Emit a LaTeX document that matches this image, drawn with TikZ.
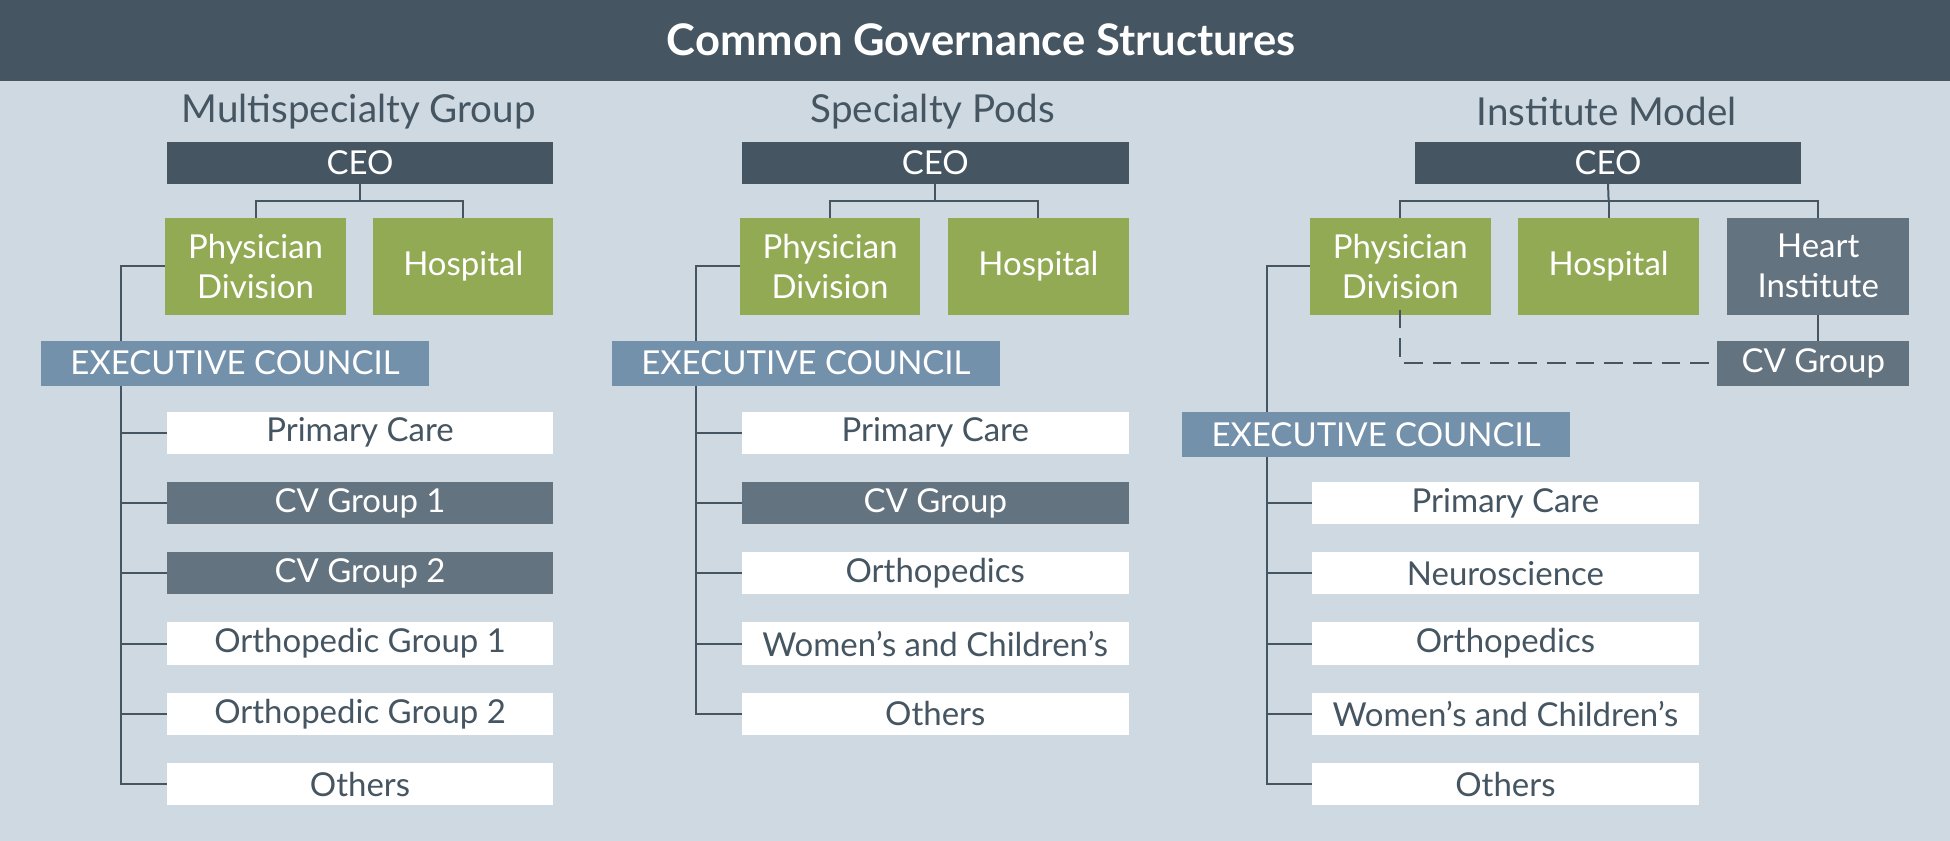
\documentclass[tikz,border=0pt]{standalone}
\usepackage{fontspec}
\setmainfont{Lato}
\usetikzlibrary{calc}
\definecolor{slate}{HTML}{455561}
\definecolor{bgc}{HTML}{CED9E2}
\definecolor{greenb}{HTML}{93AA54}
\definecolor{ecb}{HTML}{7491AB}
\definecolor{cvb}{HTML}{63737F}
\tikzset{
  box/.style={rectangle, inner sep=0pt, outer sep=0pt, minimum width=311pt, minimum height=34pt, font=\fontsize{26.5}{30}\selectfont, align=center},
  whitebox/.style={box, fill=white, text=slate},
  cvbox/.style={box, fill=cvb, text=white},
  ceobox/.style={box, fill=slate, text=white},
  greenbox/.style={box, fill=greenb, text=white, minimum width=145pt, minimum height=78pt, font=\fontsize{26.5}{32}\selectfont},
  ecbox/.style={box, fill=ecb, text=white, minimum width=312pt, minimum height=36pt},
  heading/.style={text=slate, font=\fontsize{31}{34}\selectfont, inner sep=0pt},
  conn/.style={draw=slate, line width=1.6pt},
  dconn/.style={conn, dash pattern=on 15pt off 8pt}
}
\begin{document}
\begin{tikzpicture}[x=1pt,y=-1pt]
\fill[bgc] (0,0) rectangle (1568,676);
\useasboundingbox (0,0) rectangle (1568,676);
\fill[slate] (0,0) rectangle (1568,65);
\node[text=white, font=\bfseries\fontsize{35}{40}\selectfont] (title) at (789,32) {Common Governance Structures};

% ---------- Column 1 ----------
\node[heading] (h1) at (288.5,90) {Multispecialty Group};
\node[ceobox] (ceo1) at (289.5,131) {CEO};
\node[greenbox] (pd1) at (205.5,214) {Physician\\Division};
\node[greenbox] (hs1) at (372.5,214) {Hospital};
\node[ecbox] (ec1) at (189,292) {EXECUTIVE COUNCIL};
\node[whitebox] (a1) at (289.5,348) {Primary Care};
\node[cvbox] (a2) at (289.5,404.5) {CV Group 1};
\node[cvbox] (a3) at (289.5,461) {CV Group 2};
\node[whitebox] (a4) at (289.5,517.5) {Orthopedic Group 1};
\node[whitebox] (a5) at (289.5,574) {Orthopedic Group 2};
\node[whitebox] (a6) at (289.5,630.5) {Others};
\coordinate (t1) at (97,0);
\coordinate (j1) at (289.5,162);
\draw[conn] (ceo1.south) -- (j1);
\draw[conn] (j1) -| (pd1.north);
\draw[conn] (j1) -| (hs1.north);
\draw[conn] (pd1.west) -| (t1 |- ec1.north);
\draw[conn] (t1 |- ec1.south) |- (a6.west);
\foreach \n in {a1,a2,a3,a4,a5} \draw[conn] (t1 |- \n.west) -- (\n.west);

% ---------- Column 2 ----------
\node[heading] (h2) at (750,90) {Specialty Pods};
\node[ceobox] (ceo2) at (752,131) {CEO};
\node[greenbox] (pd2) at (667.5,214) {Physician\\Division};
\node[greenbox] (hs2) at (835,214) {Hospital};
\node[ecbox] (ec2) at (648,292) {EXECUTIVE COUNCIL};
\node[whitebox] (b1) at (752,348) {Primary Care};
\node[cvbox] (b2) at (752,404.5) {CV Group};
\node[whitebox] (b3) at (752,461) {Orthopedics};
\node[whitebox] (b4) at (752,517.5) {Women’s and Children’s};
\node[whitebox] (b5) at (752,574) {Others};
\coordinate (t2) at (560,0);
\coordinate (j2) at (752,162);
\draw[conn] (ceo2.south) -- (j2);
\draw[conn] (j2) -| (pd2.north);
\draw[conn] (j2) -| (hs2.north);
\draw[conn] (pd2.west) -| (t2 |- ec2.north);
\draw[conn] (t2 |- ec2.south) |- (b5.west);
\foreach \n in {b1,b2,b3,b4} \draw[conn] (t2 |- \n.west) -- (\n.west);

% ---------- Column 3 ----------
\node[heading] (h3) at (1292,90) {Institute Model};
\node[ceobox] (ceo3) at (1293,131) {CEO};
\node[greenbox, minimum width=146pt] (pd3) at (1126,214) {Physician\\Division};
\node[greenbox, minimum width=146pt] (hs3) at (1293.5,214) {Hospital};
\node[greenbox, fill=cvb, minimum width=146pt] (hi3) at (1462,214) {Heart\\Institute};
\node[cvbox, minimum width=154pt, minimum height=36pt] (cv3) at (1458,292) {CV Group};
\node[ecbox] (ec3) at (1106.5,349.5) {EXECUTIVE COUNCIL};
\node[whitebox] (c1) at (1210.5,404.5) {Primary Care};
\node[whitebox] (c2) at (1210.5,461) {Neuroscience};
\node[whitebox] (c3) at (1210.5,517.5) {Orthopedics};
\node[whitebox] (c4) at (1210.5,574) {Women’s and Children’s};
\node[whitebox] (c5) at (1210.5,630.5) {Others};
\coordinate (t3) at (1019,0);
\coordinate (j3) at (1293.5,162);
\draw[conn] (ceo3.south) -- (j3);
\draw[conn] (j3) -| (pd3.north);
\draw[conn] (j3) -- (hs3.north);
\draw[conn] (j3) -| (hi3.north);
\draw[conn] (hi3.south) -- (hi3.south |- cv3.north);
\draw[dconn] ([yshift=4pt]pd3.south) |- (cv3.west);
\draw[conn] (pd3.west) -| (t3 |- ec3.north);
\draw[conn] (t3 |- ec3.south) |- (c5.west);
\foreach \n in {c1,c2,c3,c4} \draw[conn] (t3 |- \n.west) -- (\n.west);
\end{tikzpicture}
\end{document}
